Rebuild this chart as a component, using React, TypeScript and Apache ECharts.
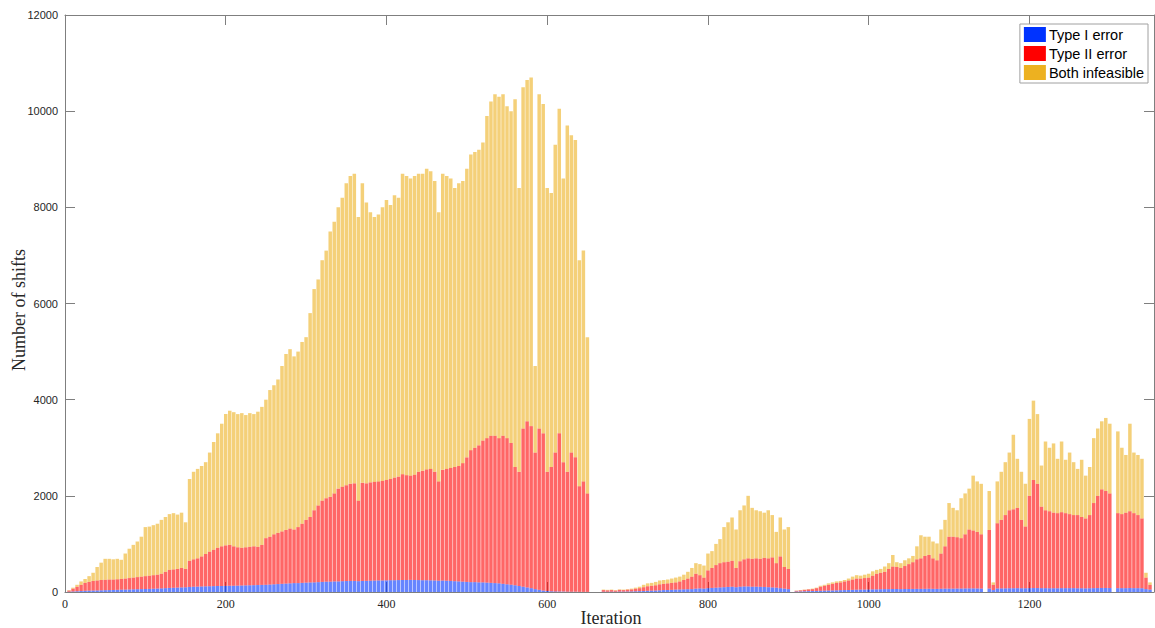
import React, { useEffect, useRef } from "react";
import * as echarts from "echarts";

// Sampling step (iterations) of the recorded shift counts.
const STEP = 5;
const X_MIN = 0;
const X_MAX = 1355;
const X_TICK = 200;
const Y_MIN = 0;
const Y_MAX = 12000;
const Y_TICK = 2000;

const seriesNames = ["Type I error", "Type II error", "Both infeasible"];
const solidColors = ["#0033ff", "#ff0000", "#edb120"];
const barColors = ["rgba(0,51,255,0.6)", "rgba(255,0,0,0.6)", "rgba(237,177,32,0.6)"];
const xTitle = "Iteration";
const yTitle = "Number of shifts";

// Shifts rejected by a Type I error (every 5 iterations, rows of 50 iterations).
const typeI = [
  0, 5, 10, 15, 20, 25, 28, 30, 32, 35, // 0
  38, 40, 42, 45, 48, 50, 52, 55, 58, 60, // 50
  62, 65, 68, 72, 75, 80, 85, 88, 92, 95, // 100
  98, 105, 110, 112, 115, 118, 120, 122, 125, 125, // 150
  128, 130, 130, 132, 135, 138, 140, 142, 145, 148, // 200
  150, 155, 160, 165, 170, 175, 180, 185, 185, 190, // 250
  195, 198, 200, 205, 210, 215, 215, 220, 220, 225, // 300
  228, 230, 230, 225, 230, 232, 235, 238, 240, 240, // 350
  242, 245, 245, 248, 250, 250, 252, 250, 248, 245, // 400
  245, 242, 240, 235, 238, 235, 230, 225, 220, 215, // 450
  210, 205, 205, 200, 200, 195, 190, 185, 180, 170, // 500
  160, 150, 140, 125, 110, 95, 80, 60, 45, 30, // 550
  20, 15, 12, 10, 8, 6, 5, 4, 3, 2, // 600
  2, 0, 0, 0, 5, 5, 6, 5, 8, 8, // 650
  10, 12, 15, 18, 20, 25, 28, 30, 35, 40, // 700
  42, 45, 50, 52, 55, 58, 60, 70, 75, 70, // 750
  80, 85, 90, 95, 100, 105, 110, 100, 110, 115, // 800
  115, 110, 110, 108, 105, 100, 95, 90, 80, 70, // 850
  60, 0, 10, 12, 15, 18, 20, 22, 25, 28, // 900
  30, 32, 35, 38, 40, 42, 45, 48, 50, 50, // 950
  52, 55, 55, 58, 60, 60, 62, 62, 60, 62, // 1000
  62, 64, 65, 65, 66, 68, 66, 65, 68, 70, // 1050
  70, 70, 72, 72, 74, 75, 75, 74, 72, 0, // 1100
  72, 40, 74, 75, 76, 78, 78, 80, 78, 76, // 1150
  80, 82, 82, 80, 80, 78, 78, 78, 80, 80, // 1200
  80, 80, 78, 78, 76, 78, 80, 82, 84, 84, // 1250
  82, 0, 80, 80, 80, 82, 80, 80, 78, 60, // 1300
  50, // 1350
];

// Running count of Type I + Type II errors.
const typeIPlusII = [
  0, 30, 70, 110, 150, 190, 210, 230, 240, 250, // 0
  255, 260, 260, 265, 270, 280, 290, 300, 310, 320, // 50
  330, 340, 350, 360, 380, 420, 460, 470, 480, 500, // 100
  480, 650, 680, 700, 740, 790, 840, 880, 920, 950, // 150
  970, 980, 950, 930, 920, 930, 940, 950, 940, 980, // 200
  1120, 1150, 1200, 1230, 1260, 1290, 1320, 1300, 1350, 1420, // 250
  1500, 1560, 1700, 1800, 1900, 1950, 1980, 2050, 2150, 2190, // 300
  2220, 2250, 2260, 1900, 2270, 2260, 2280, 2290, 2300, 2310, // 350
  2330, 2350, 2380, 2400, 2450, 2430, 2420, 2440, 2500, 2520, // 400
  2550, 2560, 2500, 2300, 2540, 2560, 2580, 2600, 2620, 2680, // 450
  2800, 2950, 3000, 3050, 3150, 3200, 3250, 3250, 3200, 3250, // 500
  3200, 3100, 2600, 2500, 3400, 3550, 3450, 2900, 3400, 3300, // 550
  2500, 2600, 2900, 3300, 2700, 2500, 2900, 2800, 2200, 2300, // 600
  2050, 0, 0, 0, 40, 35, 40, 30, 45, 40, // 650
  50, 55, 70, 80, 100, 120, 130, 140, 160, 170, // 700
  180, 190, 200, 220, 250, 280, 320, 380, 350, 300, // 750
  450, 500, 560, 600, 620, 630, 650, 500, 640, 680, // 800
  700, 690, 700, 690, 710, 700, 720, 600, 740, 520, // 850
  480, 0, 25, 35, 45, 55, 60, 80, 110, 130, // 900
  150, 170, 190, 200, 220, 240, 260, 280, 280, 290, // 950
  300, 340, 380, 400, 420, 480, 530, 520, 500, 540, // 1000
  580, 620, 680, 700, 750, 770, 700, 660, 800, 950, // 1050
  1150, 1150, 1140, 1120, 1200, 1300, 1280, 1250, 1200, 0, // 1100
  1290, 150, 1430, 1500, 1600, 1700, 1720, 1750, 1500, 1360, // 1150
  2000, 2330, 2250, 1775, 1700, 1680, 1650, 1640, 1660, 1640, // 1200
  1620, 1600, 1600, 1560, 1530, 1600, 1850, 2000, 2135, 2100, // 1250
  2050, 0, 1640, 1620, 1650, 1680, 1640, 1600, 1530, 300, // 1300
  150, // 1350
];

// Total number of shifts (Type I + Type II + both infeasible).
const allShifts = [
  0, 40, 90, 150, 220, 270, 330, 400, 520, 610, // 0
  690, 690, 680, 690, 670, 800, 900, 980, 1050, 1150, // 50
  1350, 1360, 1390, 1420, 1500, 1560, 1620, 1640, 1610, 1650, // 100
  1450, 2350, 2500, 2560, 2620, 2700, 2900, 3120, 3300, 3500, // 150
  3700, 3770, 3740, 3700, 3720, 3680, 3720, 3700, 3750, 3850, // 200
  4000, 4200, 4300, 4420, 4700, 4950, 5050, 4900, 5000, 5200, // 250
  5300, 5800, 6300, 6500, 6900, 7100, 7500, 7700, 8000, 8200, // 300
  8500, 8650, 8700, 7800, 8500, 8100, 7900, 7800, 7850, 8000, // 350
  8150, 8050, 8250, 8200, 8700, 8650, 8600, 8650, 8700, 8700, // 400
  8800, 8750, 8550, 7900, 8700, 8650, 8600, 8400, 8500, 8550, // 450
  8800, 9100, 9150, 9200, 9350, 9900, 10200, 10350, 10300, 10350, // 500
  10100, 10000, 10250, 8400, 10500, 10650, 10700, 4700, 10350, 10150, // 550
  8400, 8300, 9300, 10050, 8600, 9700, 9500, 9400, 6900, 7100, // 600
  5300, 0, 0, 0, 50, 45, 50, 40, 55, 50, // 650
  60, 70, 90, 110, 150, 180, 190, 210, 240, 250, // 700
  260, 280, 300, 320, 360, 420, 500, 600, 580, 550, // 750
  800, 850, 1000, 1100, 1350, 1450, 1550, 1300, 1700, 1800, // 800
  2000, 1750, 1700, 1680, 1650, 1700, 1600, 1250, 1550, 1300, // 850
  1350, 0, 30, 40, 50, 60, 70, 90, 130, 150, // 900
  180, 200, 220, 230, 250, 280, 320, 350, 340, 360, // 950
  380, 430, 460, 480, 530, 600, 770, 620, 600, 660, // 1000
  700, 750, 950, 1180, 1150, 1150, 1050, 1010, 1300, 1500, // 1050
  1850, 1750, 1700, 1950, 2050, 2150, 2420, 2300, 2250, 0, // 1100
  2100, 200, 2300, 2500, 2700, 2900, 3270, 2770, 2500, 2250, // 1150
  3600, 3980, 3700, 2630, 3130, 3000, 3090, 2770, 3130, 2750, // 1200
  2900, 2700, 2560, 2750, 2420, 2600, 3200, 3400, 3550, 3620, // 1250
  3500, 0, 3340, 3000, 2850, 3500, 2900, 2850, 2770, 400, // 1300
  200, // 1350
];

// Iteration of each sample; one empty slot closes the axis at X_MAX.
const iterations = allShifts.map((_, i) => String(i * STEP));
const categorySlots = [...iterations, String(X_MAX)];
const typeII = typeIPlusII.map((v, i) => v - typeI[i]);
const bothInfeasible = allShifts.map((v, i) => v - typeIPlusII[i]);
const stackedValues = [typeI, typeII, bothInfeasible];

const AXIS_COLOR = "#7f7f7f";
const SERIF = "'Liberation Serif', 'DejaVu Serif', serif";
const SANS = "'Liberation Sans', Arial, sans-serif";

export default function App() {
  const ref = useRef<HTMLDivElement>(null);

  useEffect(() => {
    if (!ref.current) return;
    const chart = echarts.init(ref.current, null, { renderer: "svg" });

    const frameAxis = {
      axisLine: { show: true, onZero: false, lineStyle: { color: AXIS_COLOR, width: 1 } },
      axisTick: { show: true, inside: true, length: 10, lineStyle: { color: AXIS_COLOR } },
      splitLine: { show: false },
    };
    const plain = (v: number) => String(v);
    const titleStyle = { fontFamily: SERIF, fontSize: 18, fill: "#262626", align: "center", verticalAlign: "middle" };

    chart.setOption({
      animation: false,
      textStyle: { fontFamily: SANS },
      grid: {
        left: 65,
        top: 15,
        right: 1,
        bottom: 36,
        containLabel: false,
        outerBoundsMode: "none",
      },
      graphic: [
        { type: "text", x: 611, y: 618, silent: true, style: { text: xTitle, ...titleStyle } },
        {
          type: "text",
          x: 19,
          y: 310,
          rotation: Math.PI / 2,
          silent: true,
          style: { text: yTitle, ...titleStyle },
        },
      ],
      legend: {
        orient: "vertical",
        right: 7,
        top: 24,
        itemWidth: 22,
        itemHeight: 15,
        itemGap: 4,
        padding: [3, 4, 3, 4],
        backgroundColor: "#ffffff",
        borderColor: "#a0a0a0",
        borderWidth: 1,
        borderRadius: 0,
        icon: "rect",
        textStyle: { fontSize: 14.5, color: "#000000", fontFamily: SANS, padding: [0, 0, 0, -2] },
        data: seriesNames.map((name, i) => ({ name, itemStyle: { color: solidColors[i], opacity: 1 } })),
      },
      xAxis: [
        {
          type: "value",
          position: "bottom",
          min: X_MIN,
          max: X_MAX,
          interval: X_TICK,
          ...frameAxis,
          axisLabel: {
            show: true,
            color: "#262626",
            fontFamily: SERIF,
            fontSize: 12,
            margin: 6,
            showMaxLabel: false,
            formatter: plain,
          },
        },
        {
          type: "value",
          position: "top",
          min: X_MIN,
          max: X_MAX,
          interval: X_TICK,
          ...frameAxis,
          axisLabel: { show: false },
        },
        {
          type: "category",
          data: categorySlots,
          boundaryGap: false,
          show: false,
        },
      ],
      yAxis: [
        {
          type: "value",
          position: "left",
          min: Y_MIN,
          max: Y_MAX,
          interval: Y_TICK,
          ...frameAxis,
          axisLabel: { show: true, color: "#262626", fontFamily: SANS, fontSize: 11, margin: 7, formatter: plain },
        },
        {
          type: "value",
          position: "right",
          min: Y_MIN,
          max: Y_MAX,
          interval: Y_TICK,
          ...frameAxis,
          axisLabel: { show: false },
        },
      ],
      series: seriesNames.map((name, s) => ({
        name,
        type: "bar",
        stack: "shifts",
        xAxisIndex: 2,
        yAxisIndex: 0,
        barWidth: 3.5,
        silent: true,
        itemStyle: { color: barColors[s] },
        data: stackedValues[s],
      })),
    });

    return () => chart.dispose();
  }, []);

  return (
    <div
      ref={ref}
      style={{ position: "fixed", left: 0, top: 0, width: 1155, height: 628, background: "#ffffff" }}
    />
  );
}
